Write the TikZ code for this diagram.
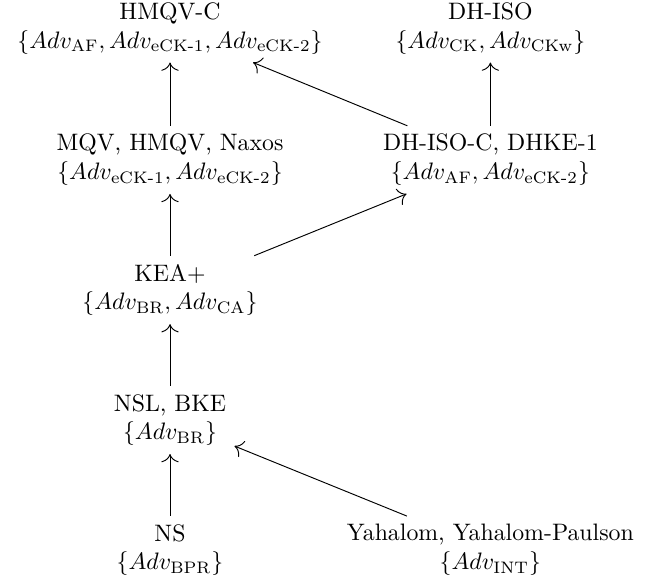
\documentclass[tikz,border=0pt]{standalone}
\usepackage{amsmath}
\usetikzlibrary{arrows, arrows.meta}

\begin{document}
\begin{tikzpicture}[proto/.style={align=center}, >={To[scale=1.4]}]
    \useasboundingbox (0,0) rectangle (9.70,-8.49);

    \node[proto] (hmqvc) at (2.51,-0.42) {HMQV-C\\$\{Adv_{\text{AF}}, Adv_{\text{eCK-1}}, Adv_{\text{eCK-2}}\}$};
    \node[proto] (dhiso) at (7.24,-0.42) {DH-ISO\\$\{Adv_{\text{CK}}, Adv_{\text{CKw}}\}$};
    \node[proto] (mqv) at (2.51,-2.36) {MQV, HMQV, Naxos\\$\{Adv_{\text{eCK-1}}, Adv_{\text{eCK-2}}\}$};
    \node[proto] (dhisoc) at (7.24,-2.36) {DH-ISO-C, DHKE-1\\$\{Adv_{\text{AF}}, Adv_{\text{eCK-2}}\}$};
    \node[proto] (kea) at (2.51,-4.28) {KEA+\\$\{Adv_{\text{BR}}, Adv_{\text{CA}}\}$};
    \node[proto] (nsl) at (2.51,-6.20) {NSL, BKE\\$\{Adv_{\text{BR}}\}$};
    \node[proto] (ns) at (2.51,-8.12) {NS\\$\{Adv_{\text{BPR}}\}$};
    \node[proto] (yah) at (7.24,-8.12) {Yahalom, Yahalom-Paulson\\$\{Adv_{\text{INT}}\}$};

    \draw[->] (mqv) -- (hmqvc);
    \draw[->] (dhisoc) -- (dhiso);
    \draw[->] (dhisoc) -- (hmqvc);
    \draw[->] (kea) -- (mqv);
    \draw[->] (kea) -- (dhisoc);
    \draw[->] (nsl) -- (kea);
    \draw[->] (ns) -- (nsl);
    \draw[->] (yah) -- (nsl);
\end{tikzpicture}
\end{document}
